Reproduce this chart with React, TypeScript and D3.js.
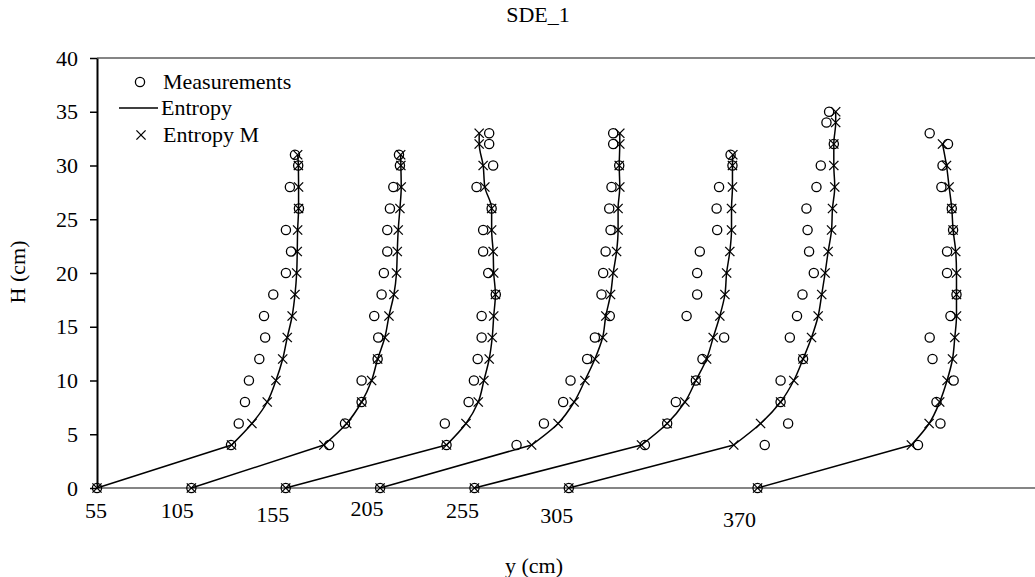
import React, { useEffect, useRef } from "react";
import * as d3 from "d3";

// ---------- data ----------
const title = "SDE_1";
const xAxisTitle = "y (cm)";
const yAxisTitle = "H (cm)";

// profile base positions (y, cm) where each profile starts at H = 0
const profileBase = [55, 105, 155, 205, 255, 305, 405];
const xTickLabels = ["55", "105", "155", "205", "255", "305", "370"];
const yTicks = [0, 5, 10, 15, 20, 25, 30, 35, 40];

// heights (H, cm)
const hA = [0, 4, 6, 8, 10, 12, 14, 16, 18, 20, 22, 24, 26, 28, 30, 31];
const hB = [0, 4, 6, 8, 10, 12, 14, 16, 18, 20, 22, 24, 26, 28, 30, 32, 33];
const hC = [0, 4, 6, 8, 10, 12, 14, 16, 18, 20, 22, 24, 26, 28, 30, 32, 34, 35];

// profile 1
const meas1 = [55, 126, 130.1, 133.4, 135.5, 141, 144.1, 143.5, 148.4, 155.1, 157.8, 155.1, 162, 157.2, 161.6, 159.9];
const ent1 = [55, 126.3, 137.1, 145.2, 149.8, 153.4, 155.8, 158.4, 159.9, 160.8, 161.1, 161.3, 161.8, 161.8, 161.7, 161.3];
// profile 2
const meas2 = [105, 178, 186.4, 195.2, 195.2, 203.7, 204, 201.9, 205.8, 207, 208.8, 208.8, 210.2, 212, 215.5, 215];
const ent2 = [105, 175.2, 187.3, 195.2, 200.5, 203.7, 207.5, 209.7, 212.3, 213.7, 214.1, 214.6, 215.5, 216.2, 216, 215.9];
// profile 3
const meas3 = [155, 240.2, 239.3, 251.9, 254.7, 256.7, 258.8, 258.8, 266.3, 262.3, 259.6, 259.6, 264.1, 256.1, 264.9, 262.8, 262.8];
const ent3 = [155, 240.2, 250.5, 257, 260, 262.8, 264.4, 265.2, 266.1, 265.2, 264.9, 264.1, 264.1, 260.5, 259.6, 257.5, 257.5];
// profile 4
const meas4 = [205, 277.3, 291.8, 302, 305.9, 314.7, 318.8, 326.7, 322.3, 323.2, 324.5, 327.1, 326.4, 327.6, 331.7, 328.5, 328.5];
const ent4 = [205, 285.3, 299.3, 307.8, 313.5, 318.8, 322.9, 324.6, 327.1, 328.5, 330.3, 331.1, 331.1, 332, 331.7, 332, 332];
// profile 5
const meas5 = [255, 345.3, 357.1, 361.7, 372.3, 375.8, 387.3, 367.4, 373, 373, 374.4, 383.6, 383.3, 384.6, 391.7, 390.7];
const ent5 = [255, 343.5, 357.1, 366.5, 372.3, 378, 381.5, 385, 387.7, 388.6, 390.3, 391.2, 391.2, 391.7, 391.7, 391.9];
// profile 6
const meas6 = [305, 408.8, 421.2, 417.2, 417.2, 429.1, 422.1, 425.9, 428.8, 434.8, 432.3, 431.5, 430.9, 436.2, 438.5, 445.4, 441.5, 442.9];
const ent6 = [305, 392.4, 406.6, 417.2, 424.2, 429.1, 433.6, 437.1, 439, 440.8, 442.4, 444.2, 444.7, 445.9, 445.4, 445.4, 446.4, 446.4];
// profile 7
const meas7 = [405, 490, 501.9, 499.8, 508.9, 497.7, 496.2, 507.2, 510.4, 505.4, 505.4, 508.6, 507.9, 502.4, 503, 505.9, 496.2];
const ent7 = [405, 486.5, 495.9, 501.5, 505.4, 508.3, 509.5, 510.4, 510.4, 510.4, 510, 508.6, 507.9, 506.5, 505.1, 503, null];

const profiles = [
  { h: hA, meas: meas1, ent: ent1 },
  { h: hA, meas: meas2, ent: ent2 },
  { h: hB, meas: meas3, ent: ent3 },
  { h: hB, meas: meas4, ent: ent4 },
  { h: hA, meas: meas5, ent: ent5 },
  { h: hC, meas: meas6, ent: ent6 },
  { h: hB, meas: meas7, ent: ent7 },
];

// ---------- layout ----------
const W = 1035;
const H = 577;
const plotLeft = 97;
const plotRight = 1035;
const plotTop = 58;
const plotBottom = 488;
const xLabelDx = [-1, -14, -13, -13, -12, -12, -18];
const xLabelY = [518, 518, 522, 516, 518, 523, 527];
const FONT = "'Liberation Serif', 'Times New Roman', serif";
const FS = 22;

const x = d3.scaleLinear().domain([55, 552]).range([plotLeft, plotRight]);
const y = d3.scaleLinear().domain([0, 40]).range([plotBottom, plotTop]);

const R = 4.6;
const XS = 4.6;

function XMark({ cx, cy }: { cx: number; cy: number }) {
  return (
    <g stroke="#000" strokeWidth={1.3}>
      <line x1={cx - XS} y1={cy - XS} x2={cx + XS} y2={cy + XS} />
      <line x1={cx - XS} y1={cy + XS} x2={cx + XS} y2={cy - XS} />
    </g>
  );
}

export default function App() {
  const yAxisRef = useRef<SVGGElement>(null);

  useEffect(() => {
    if (!yAxisRef.current) return;
    const g = d3.select(yAxisRef.current);
    g.selectAll("*").remove();
    g.call(
      d3.axisLeft(y).tickValues(yTicks).tickSize(7).tickSizeOuter(0).tickPadding(12)
    );
    g.select(".domain").attr("stroke", "#000").attr("stroke-width", 2);
    g.selectAll(".tick line").attr("stroke", "#000").attr("stroke-width", 1.5);
    g.selectAll(".tick text")
      .attr("font-family", FONT)
      .attr("font-size", FS)
      .attr("fill", "#000");
  }, []);

  const lineLinear = d3
    .line<[number, number]>()
    .x((d) => x(d[0]))
    .y((d) => y(d[1]));
  const lineCurve = d3
    .line<[number, number]>()
    .x((d) => x(d[0]))
    .y((d) => y(d[1]))
    .curve(d3.curveMonotoneY);

  return (
    <div style={{ position: "absolute", left: 0, top: 0 }}>
      <svg width={W} height={H} style={{ display: "block", background: "#fff" }}>
        {/* title */}
        <text x={538} y={22} textAnchor="middle" fontFamily={FONT} fontSize={FS}>
          {title}
        </text>

        {/* horizontal reference lines at 0 and 40 */}
        <line x1={plotLeft} x2={plotRight} y1={y(40)} y2={y(40)} stroke="#858585" strokeWidth={1.8} />
        <line x1={plotLeft} x2={plotRight} y1={y(0)} y2={y(0)} stroke="#858585" strokeWidth={1.8} />

        {/* entropy lines */}
        {profiles.map((p, i) => {
          const pts: [number, number][] = [];
          p.h.forEach((hh, j) => {
            const v = p.ent[j];
            if (v != null) pts.push([v, hh]);
          });
          return (
            <g key={"l" + i} fill="none" stroke="#000" strokeWidth={1.5}>
              <path d={lineLinear(pts.slice(0, 2)) || ""} />
              <path d={lineCurve(pts.slice(1)) || ""} />
            </g>
          );
        })}

        {/* measurement circles */}
        {profiles.map((p, i) => (
          <g key={"m" + i} fill="none" stroke="#000" strokeWidth={1.3}>
            {p.h.map((hh, j) =>
              p.meas[j] != null ? <circle key={j} cx={x(p.meas[j])} cy={y(hh)} r={R} /> : null
            )}
          </g>
        ))}

        {/* entropy M crosses */}
        {profiles.map((p, i) => (
          <g key={"x" + i}>
            {p.h.map((hh, j) =>
              p.ent[j] != null ? <XMark key={j} cx={x(p.ent[j] as number)} cy={y(hh)} /> : null
            )}
          </g>
        ))}

        {/* y axis */}
        <g ref={yAxisRef} transform={`translate(${plotLeft},0)`} />

        {/* x tick labels */}
        {xTickLabels.map((t, i) => (
          <text
            key={t}
            x={x(profileBase[i]) + xLabelDx[i]}
            y={xLabelY[i]}
            textAnchor="middle"
            fontFamily={FONT}
            fontSize={FS}
          >
            {t}
          </text>
        ))}

        {/* axis titles */}
        <text x={534} y={573} textAnchor="middle" fontFamily={FONT} fontSize={FS}>
          {xAxisTitle}
        </text>
        <text
          transform={`translate(25,272) rotate(-90)`}
          textAnchor="middle"
          fontFamily={FONT}
          fontSize={FS}
        >
          {yAxisTitle}
        </text>

        {/* legend */}
        <g fontFamily={FONT} fontSize={FS}>
          <circle cx={140} cy={82} r={R} fill="none" stroke="#000" strokeWidth={1.3} />
          <text x={163} y={89}>Measurements</text>
          <line x1={119} x2={158} y1={108} y2={108} stroke="#000" strokeWidth={1.5} />
          <text x={161} y={115}>Entropy</text>
          <XMark cx={141} cy={135} />
          <text x={163} y={142}>Entropy M</text>
        </g>
      </svg>
    </div>
  );
}
